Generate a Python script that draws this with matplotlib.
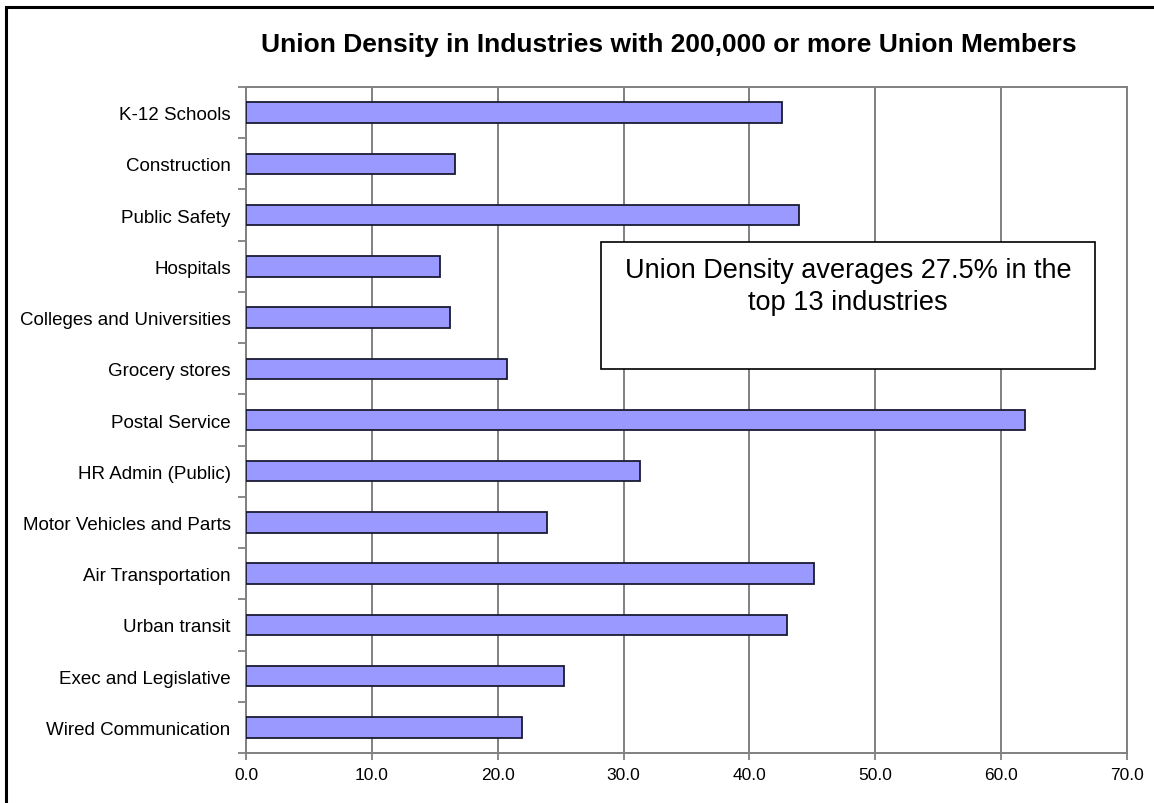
import matplotlib.pyplot as plt
from matplotlib.patches import Rectangle
import numpy as np

plt.rcParams['font.family'] = ['Liberation Sans', 'DejaVu Sans']

industries = ['K-12 Schools', 'Construction', 'Public Safety', 'Hospitals',
              'Colleges and Universities', 'Grocery stores', 'Postal Service',
              'HR Admin (Public)', 'Motor Vehicles and Parts', 'Air Transportation',
              'Urban transit', 'Exec and Legislative', 'Wired Communication']
density = [42.6, 16.6, 43.9, 15.4, 16.2, 20.7, 61.9, 31.3, 23.9, 45.1, 43.0, 25.3, 21.9]
x_ticks = np.arange(0, 71, 10)

W, H = 1154, 804
fig = plt.figure(figsize=(W / 100, H / 100), dpi=100)
ax = fig.add_axes([246 / W, 1 - 754 / H, (1127 - 246) / W, (754 - 88) / H])

pos = np.arange(len(industries))
ax.barh(pos, density, height=0.4, color='#9999ff', edgecolor='#1a1a33',
        linewidth=1.3, zorder=3)

ax.set_xlim(0, 70)
ax.set_ylim(len(industries) - 0.5, -0.5)
ax.set_xticks(x_ticks)
ax.set_xticklabels([f'{v:.1f}' for v in x_ticks], fontsize=12.5)
ax.xaxis.grid(True, color='#808080', linewidth=1.4, zorder=0)

# category axis: ticks between categories, labels centred on bars
ax.set_yticks(np.arange(-0.5, len(industries), 1.0))
ax.set_yticklabels([])
ax.set_yticks(pos, minor=True)
ax.set_yticklabels(industries, minor=True, fontsize=13.5)
ax.tick_params(axis='y', which='minor', length=0, pad=11)
ax.tick_params(axis='y', which='major', length=6, width=1.3, color='#808080')
ax.tick_params(axis='x', length=5, width=1.3, color='#808080', pad=5)

for sp in ax.spines.values():
    sp.set_color('#808080')
    sp.set_linewidth(1.4)

fig.text(669 / W, 1 - 45 / H, 'Union Density in Industries with 200,000 or more Union Members',
         ha='center', va='center', fontsize=19, fontweight='bold')

# annotation box
fig.patches.append(Rectangle((601 / W, 1 - 370 / H), (1095 - 601) / W, (370 - 243) / H,
                             transform=fig.transFigure, facecolor='white',
                             edgecolor='black', linewidth=1.2, zorder=5))
fig.text(848 / W, 1 - 258 / H, 'Union Density averages 27.5% in the\ntop 13 industries',
         ha='center', va='top', fontsize=19.5, linespacing=1.3, zorder=6)

# outer chart frame (left and top edges visible)
fig.patches.append(Rectangle((6 / W, -0.1), 1.2, 1 - 8 / H + 0.1,
                             transform=fig.transFigure, facecolor='none',
                             edgecolor='black', linewidth=2.2, zorder=7))

fig.savefig('out.png', dpi=100)
